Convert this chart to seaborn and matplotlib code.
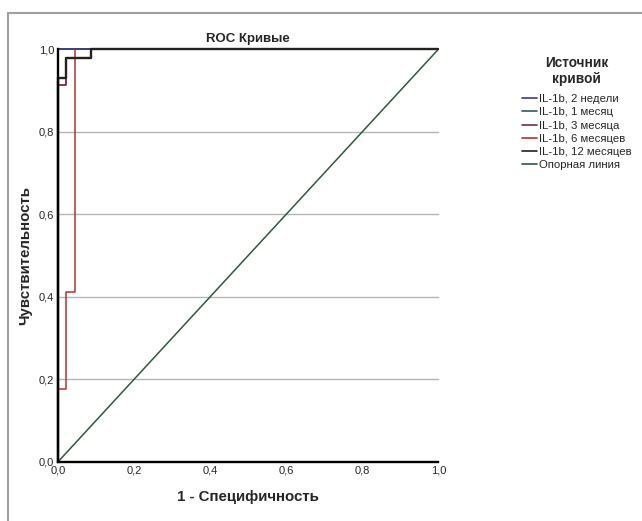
import matplotlib
matplotlib.use("Agg")
import matplotlib.pyplot as plt
import matplotlib.patches as mpatches
from matplotlib.lines import Line2D
import seaborn as sns
import pandas as pd

# ---- data ----
series_names = ["IL-1b, 2 недели", "IL-1b, 1 месяц", "IL-1b, 3 месяца",
                "IL-1b, 6 месяцев", "IL-1b, 12 месяцев", "Опорная линия"]
fpr_2w = [0.0, 0.0, 1.0]
tpr_2w = [0.0, 1.0, 1.0]
fpr_1m = [0.0, 0.0, 1.0]
tpr_1m = [0.0, 1.0, 1.0]
fpr_3m = [0.0, 0.0, 0.02, 0.02, 0.086, 0.086, 1.0]
tpr_3m = [0.0, 0.914, 0.914, 0.979, 0.979, 1.0, 1.0]
fpr_6m = [0.0, 0.0, 0.02, 0.02, 0.044, 0.044, 1.0]
tpr_6m = [0.0, 0.175, 0.175, 0.412, 0.412, 1.0, 1.0]
fpr_12m = [0.0, 0.0, 0.02, 0.02, 0.086, 0.086, 1.0]
tpr_12m = [0.0, 0.93, 0.93, 0.979, 0.979, 1.0, 1.0]
fpr_ref = [0.0, 1.0]
tpr_ref = [0.0, 1.0]
tick_vals = [0.0, 0.2, 0.4, 0.6, 0.8, 1.0]
tick_labels = ["0,0", "0,2", "0,4", "0,6", "0,8", "1,0"]

colors = ["#3a3a8a", "#2f5f50", "#7a2a48", "#b83030", "#262020", "#2e5a3a"]
widths = [1.2, 1.2, 1.3, 1.1, 1.7, 1.1]

fpr_all = [fpr_2w, fpr_1m, fpr_3m, fpr_6m, fpr_12m, fpr_ref]
tpr_all = [tpr_2w, tpr_1m, tpr_3m, tpr_6m, tpr_12m, tpr_ref]
rows = []
for name, xs, ys in zip(series_names, fpr_all, tpr_all):
    for i, (x, y) in enumerate(zip(xs, ys)):
        rows.append({"curve": name, "order": i, "fpr": x, "tpr": y})
df = pd.DataFrame(rows)

sns.set_style("white")
plt.rcParams["font.family"] = ["Liberation Sans", "DejaVu Sans"]

fig = plt.figure(figsize=(6.42, 5.21), dpi=100)
ax = fig.add_axes([0.0908, 0.1142, 0.592, 0.7912])

# gridlines
for v in tick_vals[1:-1]:
    ax.axhline(v, color="#b4b4b4", lw=1.0, zorder=1)

draw_order = [5, 3, 2, 1, 0, 4]
for k in draw_order:
    name = series_names[k]
    sub = df[df["curve"] == name]
    sns.lineplot(data=sub, x="fpr", y="tpr", sort=False, estimator=None,
                 color=colors[k], lw=widths[k], ax=ax, legend=False,
                 zorder=3 + draw_order.index(k))
for l in ax.lines:
    l.set_clip_on(False)

ax.set_xlim(0, 1)
ax.set_ylim(0, 1)
ax.set_xticks(tick_vals)
ax.set_xticklabels(tick_labels, fontsize=8)
ax.set_yticks(tick_vals)
ax.set_yticklabels(tick_labels, fontsize=8)
ax.tick_params(length=0, pad=3)
for s in ["top", "right"]:
    ax.spines[s].set_visible(False)
for s in ["left", "bottom"]:
    ax.spines[s].set_color("black")
    ax.spines[s].set_linewidth(1.7)
    ax.spines[s].set_zorder(20)

ax.set_title("ROC Кривые", fontsize=9.5, fontweight="bold", pad=5)
ax.set_xlabel("1 - Специфичность", fontsize=10.8, fontweight="bold", labelpad=10)
ax.set_ylabel("Чувствительность", fontsize=10.8, fontweight="bold", labelpad=5)

handles = [Line2D([0], [0], color=c, lw=1.2) for c in colors]
leg = fig.legend(handles, series_names, loc="upper left",
                 bbox_to_anchor=(0.806, 0.902), frameon=False,
                 title="Источник\nкривой", fontsize=8.2,
                 title_fontproperties={"weight": "bold", "size": 9.8},
                 handlelength=1.35, handletextpad=0.1, labelspacing=0.28,
                 borderaxespad=0.0)
leg.get_title().set_multialignment("center")
leg._legend_box.align = "center"
leg._legend_box.sep = 6

# outer border of the output window
fig.add_artist(mpatches.Rectangle((0.0125, -0.1), 1.2, 1.075,
                                  transform=fig.transFigure, fill=False,
                                  edgecolor="#a0a0a0", lw=1.5))

fig.savefig("out.png", dpi=100)
